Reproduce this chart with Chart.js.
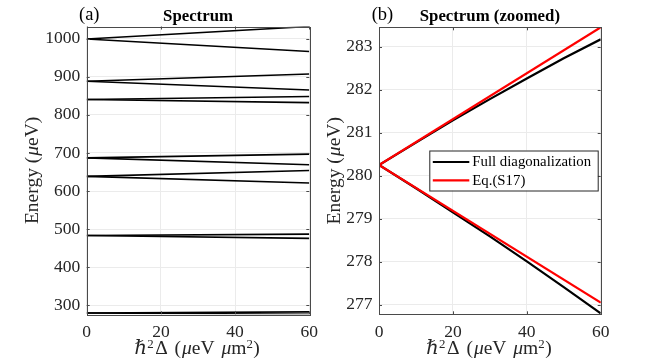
<!DOCTYPE html>
<html>
<head>
<meta charset="utf-8">
<script src="https://cdn.jsdelivr.net/npm/chart.js@4.4.0/dist/chart.umd.min.js"></script>
<style>
  html, body { margin: 0; padding: 0; background: #fff; }
  #wrap { position: relative; width: 664px; height: 364px; overflow: hidden; }
  canvas { position: absolute; top: 0; }
</style>
</head>
<body>
<div id="wrap">
  <canvas id="chartA" width="332" height="364" style="left:0"></canvas>
  <canvas id="chartB" width="348" height="364" style="left:316px"></canvas>
</div>
<script>
// ==================== 데이터 ====================
// (a) 전체 스펙트럼: 각 준위가 Δ에 따라 위/아래로 갈라짐
const deltaEnds = [0, 60];
const levelStart    = [280.25, 483.5, 638.5, 687, 840, 888, 999];
const levelUpperEnd = [283.17, 487, 654, 697, 848, 907, 1031.6];
const levelLowerEnd = [276.8, 476, 621, 669, 832, 865, 966];
const energyTicksA = [300, 400, 500, 600, 700, 800, 900, 1000];

// (b) 최저 준위 확대
const deltaZoom = [0, 10, 20, 30, 40, 50, 60];
const fullUpper = [280.25, 280.77, 281.29, 281.78, 282.26, 282.73, 283.17];
const fullLower = [280.25, 279.71, 279.15, 278.59, 278.01, 277.41, 276.80];
const eqUpper = [280.25, 283.45];   // deltaEnds 기준
const eqLower = [280.25, 277.05];
const energyTicksB = [277, 278, 279, 280, 281, 282, 283];

const deltaTicks = [0, 20, 40, 60];
const legendLabels = ["Full diagonalization", "Eq.(S17)"];

// ==================== 공통 ====================
const SERIF = "'Liberation Serif', 'DejaVu Serif', serif";
const TXT = "#262626";

function lineDs(xs, ys, color, width) {
  return {
    data: xs.map((x, i) => ({ x, y: ys[i] })),
    borderColor: color,
    borderWidth: width,
    pointRadius: 0,
    fill: false,
    tension: 0
  };
}

// 이탤릭/윗첨자 섞인 텍스트 그리기
function drawRich(ctx, segs, cx, cy, size, rotate) {
  const fontOf = s => `${s.it ? "italic " : ""}${s.sup ? size * 0.66 : size}px ${SERIF}`;
  let total = 0;
  segs.forEach(s => { ctx.font = fontOf(s); total += ctx.measureText(s.t).width + (s.gap || 0); });
  ctx.save();
  ctx.translate(cx, cy);
  if (rotate) ctx.rotate(-Math.PI / 2);
  ctx.fillStyle = TXT;
  ctx.textBaseline = "alphabetic";
  ctx.textAlign = "left";
  let x = -total / 2;
  const base = size * 0.32;
  segs.forEach(s => {
    ctx.font = fontOf(s);
    ctx.fillText(s.t, x, s.sup ? base - size * 0.3 : base);
    x += ctx.measureText(s.t).width + (s.gap || 0);
  });
  ctx.restore();
}

const xLabel = [
  { t: "ℏ", it: true, gap: 0.5 }, { t: "2", sup: true, gap: 1.5 }, { t: "Δ", gap: 2 }, { t: " (", gap: 1 },
  { t: "μ", it: true }, { t: "eV", gap: 2 }, { t: " " }, { t: "μ", it: true }, { t: "m" },
  { t: "2", sup: true, gap: 0.5 }, { t: ")" }
];
const yLabel = [{ t: "Energy (", gap: 1 }, { t: "μ", it: true }, { t: "eV)" }];

// 축 테두리, 안쪽 눈금, 제목, 축 제목
const framePlugin = {
  id: "frame",
  afterDraw(chart, args, opts) {
    const ctx = chart.ctx;
    const { left, right, top, bottom } = chart.chartArea;
    const xs = chart.scales.x, ys = chart.scales.y;
    ctx.save();
    ctx.strokeStyle = "#4a4a4a";
    ctx.lineWidth = 1;
    ctx.beginPath();
    opts.xTicks.forEach(v => {
      const p = Math.round(xs.getPixelForValue(v)) + 0.5;
      ctx.moveTo(p, bottom); ctx.lineTo(p, bottom - 3);
      ctx.moveTo(p, top); ctx.lineTo(p, top + 3);
    });
    opts.yTicks.forEach(v => {
      const p = Math.round(ys.getPixelForValue(v)) + 0.5;
      ctx.moveTo(left, p); ctx.lineTo(left + 3, p);
      ctx.moveTo(right, p); ctx.lineTo(right - 3, p);
    });
    ctx.stroke();
    ctx.strokeRect(Math.round(left) + 0.5, Math.round(top) + 0.5,
      Math.round(right - left), Math.round(bottom - top));

    // 제목
    ctx.fillStyle = "#000";
    ctx.textBaseline = "alphabetic";
    ctx.textAlign = "center";
    ctx.font = `bold 16.8px ${SERIF}`;
    ctx.fillText(opts.title, (left + right) / 2, 20.5);
    ctx.textAlign = "left";
    ctx.font = `18.5px ${SERIF}`;
    ctx.fillText(opts.tag, opts.tagX, 20);
    ctx.restore();

    drawRich(ctx, xLabel, (left + right) / 2 - 1, 347.3, 19.5, false);
    drawRich(ctx, yLabel, opts.yLabelX, (top + bottom) / 2, 19.5, true);

    // 범례
    if (opts.legend) {
      const L = opts.legend;
      ctx.save();
      ctx.fillStyle = "#fff";
      ctx.fillRect(L.x, L.y, L.w, L.h);
      ctx.strokeStyle = "#262626";
      ctx.lineWidth = 1;
      ctx.strokeRect(L.x + 0.5, L.y + 0.5, L.w, L.h);
      ctx.font = `14.8px ${SERIF}`;
      ctx.textBaseline = "middle";
      ctx.textAlign = "left";
      L.items.forEach((it, i) => {
        const yy = L.y + 11.5 + i * 18.4;
        ctx.strokeStyle = it.color;
        ctx.lineWidth = 2.2;
        ctx.beginPath();
        ctx.moveTo(L.x + 3.5, yy); ctx.lineTo(L.x + 40, yy);
        ctx.stroke();
        ctx.fillStyle = "#000";
        ctx.fillText(it.text, L.x + 43, yy + 0.5);
      });
      ctx.restore();
    }
  }
};

function makeScales(yMin, yMax, yTicks, yWidth) {
  const tickFont = { family: SERIF, size: 17.5 };
  return {
    x: {
      type: "linear", min: 0, max: 60,
      afterBuildTicks: s => { s.ticks = deltaTicks.map(v => ({ value: v })); },
      afterFit: s => { s.height = 364 - 314.3; },
      ticks: { font: tickFont, color: TXT, padding: 7.5, maxRotation: 0, callback: v => String(v) },
      grid: { color: "#ebebeb", drawTicks: false },
      border: { display: false }
    },
    y: {
      type: "linear", min: yMin, max: yMax,
      afterBuildTicks: s => { s.ticks = yTicks.map(v => ({ value: v })); },
      afterFit: s => { s.width = yWidth; },
      ticks: { font: tickFont, color: TXT, padding: 6.5, callback: v => String(v) },
      grid: { color: "#ebebeb", drawTicks: false },
      border: { display: false }
    }
  };
}

// ==================== (a) Spectrum ====================
const dsA = [];
levelStart.forEach((e0, i) => {
  dsA.push(lineDs(deltaEnds, [e0, levelUpperEnd[i]], "#000", 1.6));
  dsA.push(lineDs(deltaEnds, [e0, levelLowerEnd[i]], "#000", 1.6));
});

new Chart(document.getElementById("chartA"), {
  type: "line",
  data: { datasets: dsA },
  options: {
    responsive: false,
    animation: false,
    layout: { padding: { left: 0, right: 332 - 309.3, top: 26.5, bottom: 0 } },
    scales: makeScales(276.8, 1031.6, energyTicksA, 86.7),
    plugins: {
      legend: { display: false },
      tooltip: { enabled: false },
      frame: { title: "Spectrum", tag: "(a)", tagX: 79, yLabelX: 32,
               xTicks: deltaTicks, yTicks: energyTicksA }
    }
  },
  plugins: [framePlugin]
});

// ==================== (b) Spectrum (zoomed) ====================
// 빨간 선이 위에 그려지도록 앞에 둠
const dsB = [
  lineDs(deltaEnds, eqUpper, "#ff0000", 2.2),
  lineDs(deltaEnds, eqLower, "#ff0000", 2.2),
  lineDs(deltaZoom, fullUpper, "#000", 2.2),
  lineDs(deltaZoom, fullLower, "#000", 2.2)
];

new Chart(document.getElementById("chartB"), {
  type: "line",
  data: { datasets: dsB },
  options: {
    responsive: false,
    animation: false,
    layout: { padding: { left: 0, right: 348 - 284.7, top: 27.3, bottom: 0 } },
    scales: makeScales(276.78, 283.45, energyTicksB, 63),
    plugins: {
      legend: { display: false },
      tooltip: { enabled: false },
      frame: {
        title: "Spectrum (zoomed)", tag: "(b)", tagX: 371.7 - 316, yLabelX: 334 - 316,
        xTicks: deltaTicks, yTicks: energyTicksB,
        legend: {
          x: 429.3 - 316, y: 150.5, w: 168.4, h: 40,
          items: [
            { text: legendLabels[0], color: "#000" },
            { text: legendLabels[1], color: "#ff0000" }
          ]
        }
      }
    }
  },
  plugins: [framePlugin]
});
</script>
</body>
</html>
